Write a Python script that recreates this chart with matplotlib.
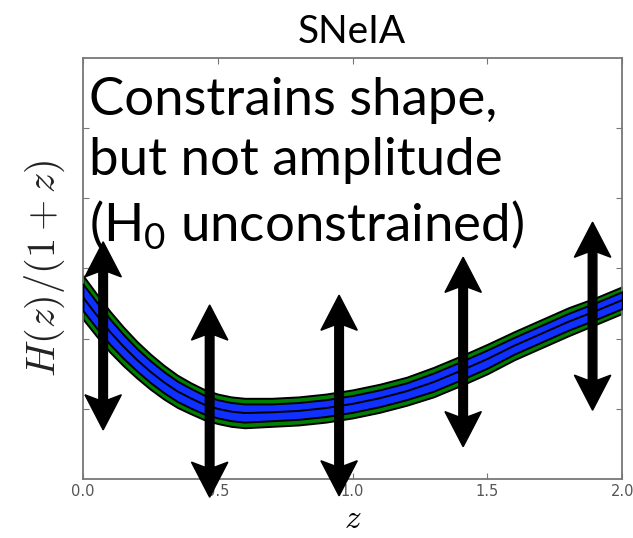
import matplotlib
matplotlib.use("Agg")
import matplotlib.pyplot as plt
import numpy as np

# values
z = [0.0, 0.05, 0.1, 0.15, 0.2, 0.25, 0.3, 0.35, 0.4, 0.45, 0.5, 0.55, 0.6,
     0.7, 0.8, 0.9, 1.0, 1.1, 1.2, 1.3, 1.4, 1.5, 1.6, 1.7, 1.8, 1.9, 2.0]
hz = [2.59, 2.34, 2.10, 1.89, 1.70, 1.53, 1.38, 1.25, 1.15, 1.06, 1.00, 0.96, 0.94,
      0.95, 0.97, 1.01, 1.07, 1.15, 1.25, 1.38, 1.54, 1.71, 1.90, 2.07, 2.24, 2.39, 2.55]
sig2 = [0.31, 0.30, 0.29, 0.275, 0.26, 0.25, 0.24, 0.23, 0.22, 0.215, 0.21, 0.21, 0.21,
        0.20, 0.20, 0.20, 0.20, 0.20, 0.20, 0.21, 0.21, 0.21, 0.20, 0.20, 0.20, 0.19, 0.19]
sig1 = [0.19, 0.185, 0.18, 0.17, 0.16, 0.155, 0.15, 0.145, 0.14, 0.135, 0.13, 0.13, 0.13,
        0.12, 0.12, 0.12, 0.12, 0.12, 0.12, 0.13, 0.13, 0.13, 0.12, 0.12, 0.12, 0.12, 0.12]

arrow_z = [0.075, 0.47, 0.95, 1.41, 1.89]
arrow_lo = [0.70, -0.26, -0.24, 0.46, 0.98]
arrow_hi = [3.38, 2.48, 2.62, 3.16, 3.66]

xticks = [0.0, 0.5, 1.0, 1.5, 2.0]
xticklabels = ['0.0', '0.5', '1.0', '1.5', '2.0']

plt.rcParams['mathtext.fontset'] = 'custom'
plt.rcParams['mathtext.rm'] = 'Lato'
plt.rcParams['mathtext.it'] = 'Lato:italic'

fig = plt.figure(figsize=(6.33, 5.38), dpi=100)
ax = fig.add_axes([0.131, 0.1097, 0.852, 0.7825])

zz = np.array(z)
h = np.array(hz)
s1 = np.array(sig1)
s2 = np.array(sig2)

# confidence bands
ax.fill_between(zz, h - s2, h + s2, color='#008000', edgecolor='k', lw=1.4, zorder=2)
ax.fill_between(zz, h - s1, h + s1, color='#1030ff', edgecolor='k', lw=1.4, zorder=3)
ax.plot(zz, h, color='k', lw=1.4, zorder=4)

# double headed arrows
for xa, lo, hi in zip(arrow_z, arrow_lo, arrow_hi):
    mid = 0.5 * (lo + hi)
    for end in (lo, hi):
        ax.arrow(xa, mid, 0, end - mid, width=0.032, head_width=0.135,
                 head_length=0.5, overhang=0.15, length_includes_head=True,
                 color='k', clip_on=False, zorder=6)

ax.set_xlim(0, 2)
ax.set_ylim(0, 6)
ax.set_xticks(xticks)
ax.set_xticklabels(xticklabels, fontsize=10.5, color='#555555')
ax.set_yticks([1, 2, 3, 4, 5])
ax.set_yticklabels([])
ax.tick_params(direction='in', top=True, right=True, length=4, color='#777777')

for s in ax.spines.values():
    s.set_color('#777777')
    s.set_linewidth(1.3)

ax.set_xlabel(r'$z$', fontsize=24, math_fontfamily='cm', labelpad=2)
ax.set_ylabel(r'$H(z)/(1+z)$', fontsize=29, math_fontfamily='cm', labelpad=8,
              color='#222222')

ax.text(0.012, 0.955, 'Constrains shape,\nbut not amplitude\n($\\mathrm{H}_0$ unconstrained)',
        transform=ax.transAxes, ha='left', va='top', fontsize=38,
        family='Lato', linespacing=1.34, zorder=5)

fig.text(0.556, 0.94, 'SNeIA', ha='center', va='center', fontsize=28, family='Lato')

fig.savefig('out.png', dpi=100)
